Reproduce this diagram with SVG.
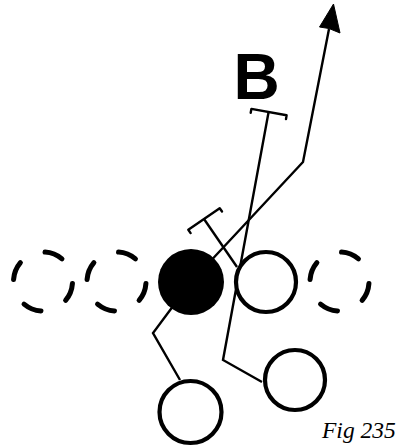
<svg xmlns="http://www.w3.org/2000/svg" width="398" height="446" viewBox="0 0 398 446">
  <style>
    .route { fill: none; stroke: #000; stroke-width: 2.4; stroke-linejoin: miter; stroke-linecap: butt; }
    .block { fill: none; stroke: #000; stroke-width: 2.4; stroke-linecap: round; stroke-linejoin: round; }
    .open { fill: #fff; stroke: #000; stroke-width: 4.2; }
    .ghost { fill: none; stroke: #000; stroke-width: 5; stroke-linecap: round; stroke-dasharray: 36 54; stroke-dashoffset: -4; }
    .solid { fill: #000; }
    .label { font-family: "Liberation Sans", Arial, sans-serif; font-weight: bold; }
    .caption { font-family: "Liberation Serif", "Times New Roman", serif; font-style: italic; }
  </style>

  <!-- routes and blocks -->
  <g id="connectors">
    <!-- release route with arrow -->
    <polyline class="route" points="191,282 303,162 329,29"/>
    <polygon points="333.5,4 319.5,27 329,28.5 340,33" fill="#000" stroke="#000" stroke-width="1" stroke-linejoin="round"/>
    <!-- back's path up to the block -->
    <polyline class="route" points="262,382 223,360 268.6,112"/>
    <polyline class="block" points="250.7,112.7 251.4,108.9 286.6,115.3 286.0,119.1"/>
    <!-- lineman's block -->
    <line class="route" x1="237" y1="267" x2="204" y2="219"/>
    <polyline class="block" points="190.6,233.1 188.3,229.8 219.7,208.2 222.0,211.5"/>
    <!-- lower-left path -->
    <polyline class="route" points="191,282 153,333 180,380"/>
  </g>

  <g id="ghost-1"><circle class="ghost" cx="43" cy="281.5" r="29.5" pathLength="360"/></g>
  <g id="ghost-2"><circle class="ghost" cx="116.5" cy="281.5" r="29.5" pathLength="360"/></g>
  <g id="center"><circle class="solid" cx="191" cy="282" r="33"/></g>
  <g id="guard"><circle class="open" cx="266" cy="282" r="30"/></g>
  <g id="ghost-4"><circle class="ghost" cx="339.5" cy="281.5" r="29.5" pathLength="360"/></g>
  <g id="back-right"><circle class="open" cx="295" cy="380" r="30"/></g>
  <g id="back-left"><circle class="open" cx="190.5" cy="412" r="31"/></g>

  <g id="label-b"><text class="label" x="233.6" y="99" font-size="64">B</text></g>
  <g id="caption"><text class="caption" x="322" y="438" font-size="23.5">Fig 235</text></g>
</svg>
